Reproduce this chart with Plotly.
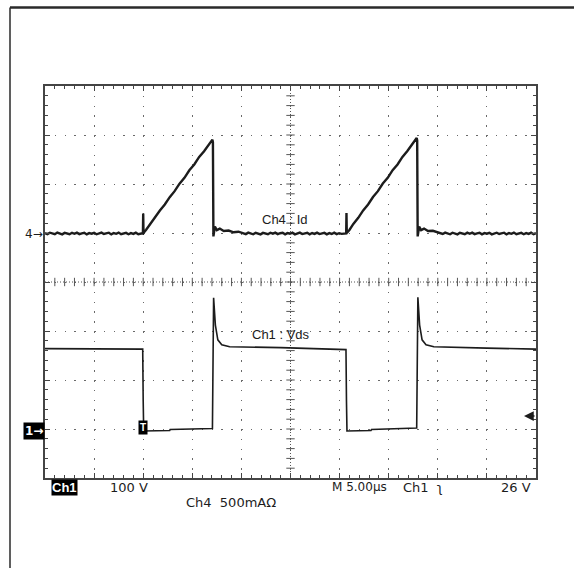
import plotly.graph_objects as go

# ---------------- data (time in µs, Ch1 in V, Ch4 in A) ----------------
# Ch1 : Vds
vds_time = [0, 3, 6, 9.95, 10.0, 10.05, 12.7, 12.75, 17.05, 17.1, 17.17, 17.35, 17.6, 18.0, 18.8, 24,
            30.65, 30.7, 30.75, 33.2, 33.25, 37.85, 37.9, 37.97, 38.15, 38.4, 38.8, 39.6, 45, 50]
vds_volts = [167, 167, 166, 166, 60, -1, 0, 2, 4, 100, 271, 215, 185, 175, 171, 169,
             165, 60, -1, 0, 2, 5, 110, 272, 215, 185, 175, 171, 168, 166]

# Ch4 : Id  (segments)
id_t_base1 = [0.0, 0.25, 0.5, 0.75, 1.0, 1.25, 1.5, 1.75, 2.0, 2.25, 2.5, 2.75, 3.0, 3.25, 3.5, 3.75, 4.0, 4.25,
              4.5, 4.75, 5.0, 5.25, 5.5, 5.75, 6.0, 6.25, 6.5, 6.75, 7.0, 7.25, 7.5, 7.75, 8.0, 8.25, 8.5, 8.75,
              9.0, 9.25, 9.5, 9.75, 9.9]
id_a_base1 = [0.004, -0.006, 0.008, -0.002, -0.007, 0.009, 0.001, -0.009, 0.006, 0.002, -0.008, 0.007,
              -0.003, 0.009, -0.006, 0.002, 0.008, -0.009, 0.004, -0.002, 0.007, -0.008, 0.003, 0.009,
              -0.005, -0.001, 0.008, -0.009, 0.005, -0.003, 0.009, -0.007, 0.002, 0.006, -0.008, 0.004,
              -0.004, 0.008, -0.007, 0.003, 0.002]
id_t_ramp1 = [9.97, 10.0, 10.03, 10.3, 10.7, 11.2, 11.7, 12.2, 12.7, 13.2, 13.7, 14.2, 14.7, 15.2, 15.7, 16.2, 16.7, 17.05]
id_a_ramp1 = [0.0, 0.205, 0.005, 0.038, 0.097, 0.160, 0.234, 0.296, 0.371, 0.432, 0.508, 0.568, 0.645, 0.704,
              0.781, 0.840, 0.917, 0.958]
id_t_drop1 = [17.1, 17.15, 17.3, 17.5, 17.8, 18.2, 18.7, 19.2, 19.7]
id_a_drop1 = [0.93, -0.03, 0.07, 0.035, 0.05, 0.025, 0.03, 0.012, 0.018]
id_t_base2 = [20.2, 20.45, 20.7, 20.95, 21.2, 21.45, 21.7, 21.95, 22.2, 22.45, 22.7, 22.95, 23.2, 23.45, 23.7,
              23.95, 24.2, 24.45, 24.7, 24.95, 25.2, 25.45, 25.7, 25.95, 26.2, 26.45, 26.7, 26.95, 27.2, 27.45,
              27.7, 27.95, 28.2, 28.45, 28.7, 28.95, 29.2, 29.45, 29.7, 29.95, 30.2, 30.6]
id_a_base2 = [0.004, -0.006, 0.009, -0.003, -0.008, 0.007, 0.002, -0.009, 0.006, 0.001, -0.007, 0.008,
              -0.002, 0.009, -0.006, 0.003, 0.007, -0.008, 0.004, -0.003, 0.008, -0.009, 0.002, 0.009,
              -0.006, -0.001, 0.007, -0.008, 0.005, -0.004, 0.009, -0.006, 0.003, 0.006, -0.009, 0.004,
              -0.005, 0.008, -0.006, 0.003, -0.004, 0.002]
id_t_ramp2 = [30.67, 30.7, 30.73, 31.0, 31.4, 31.9, 32.4, 32.9, 33.4, 33.9, 34.4, 34.9, 35.4, 35.9, 36.4, 36.9, 37.4, 37.85]
id_a_ramp2 = [0.0, 0.21, 0.005, 0.036, 0.098, 0.160, 0.236, 0.296, 0.372, 0.432, 0.510, 0.568, 0.646, 0.704,
              0.781, 0.842, 0.918, 0.975]
id_t_drop2 = [37.9, 37.95, 38.1, 38.3, 38.6, 39.0, 39.5, 40.0]
id_a_drop2 = [0.95, -0.03, 0.07, 0.035, 0.05, 0.025, 0.028, 0.012]
id_t_base3 = [40.25, 40.5, 40.75, 41.0, 41.25, 41.5, 41.75, 42.0, 42.25, 42.5, 42.75, 43.0, 43.25, 43.5, 43.75,
              44.0, 44.25, 44.5, 44.75, 45.0, 45.25, 45.5, 45.75, 46.0, 46.25, 46.5, 46.75, 47.0, 47.25, 47.5,
              47.75, 48.0, 48.25, 48.5, 48.75, 49.0, 49.25, 49.5, 49.75, 50.0]
id_a_base3 = [0.006, -0.005, 0.009, -0.002, -0.008, 0.008, 0.001, -0.009, 0.007, 0.002, -0.007, 0.008,
              -0.003, 0.009, -0.006, 0.002, 0.008, -0.008, 0.004, -0.002, 0.007, -0.009, 0.003, 0.008,
              -0.005, -0.001, 0.008, -0.009, 0.005, -0.003, 0.009, -0.007, 0.002, 0.006, -0.008, 0.004,
              -0.004, 0.008, -0.007, 0.003]

id_time = id_t_base1 + id_t_ramp1 + id_t_drop1 + id_t_base2 + id_t_ramp2 + id_t_drop2 + id_t_base3
id_amps = id_a_base1 + id_a_ramp1 + id_a_drop1 + id_a_base2 + id_a_ramp2 + id_a_drop2 + id_a_base3

# scope settings
time_per_div = 5.0      # µs
volts_per_div = 100.0   # Ch1
amps_per_div = 0.5      # Ch4
ch1_ground_div = -3.03
ch4_ground_div = 0.99

# ---------------- layout geometry ----------------
W, H = 574, 568
L, R, T, B = 45, 536, 86, 478
PW, PH = R - L, B - T


def px(x):
    return (x - L) / PW


def py(y):
    return (B - y) / PH


INK = "#1c1c1c"
FONT = "Liberation Sans"
FONT2 = "DejaVu Sans"

fig = go.Figure()

fig.add_trace(go.Scatter(x=vds_time, y=vds_volts, mode="lines", yaxis="y2",
                         line=dict(color=INK, width=1.6), hoverinfo="skip"))
fig.add_trace(go.Scatter(x=id_time, y=id_amps, mode="lines", yaxis="y3",
                         line=dict(color=INK, width=2.4), hoverinfo="skip"))

# centre-line tick marks
minor_x = [i * time_per_div / 5 for i in range(1, 50)]
minor_y = [i / 5 - 4 for i in range(1, 40)]
fig.add_trace(go.Scatter(x=minor_x, y=[0] * len(minor_x), mode="markers", hoverinfo="skip",
                         marker=dict(symbol="line-ns", size=6, line=dict(width=1, color="#555"))))
fig.add_trace(go.Scatter(x=[5 * time_per_div] * len(minor_y), y=minor_y, mode="markers", hoverinfo="skip",
                         marker=dict(symbol="line-ew", size=6, line=dict(width=1, color="#555"))))

dash = "1.6px,8.2px"
axis_common = dict(showgrid=True, gridcolor="#6a6a6a", gridwidth=1, griddash=dash,
                   showline=True, linecolor="#444", linewidth=1.5, mirror="ticks",
                   ticks="inside", ticklen=5, tickcolor="#444", tickwidth=1,
                   showticklabels=False, zeroline=False, fixedrange=True)

fig.update_layout(
    width=W, height=H, autosize=False,
    margin=dict(l=L, r=W - R, t=T, b=H - B),
    paper_bgcolor="white", plot_bgcolor="white", showlegend=False,
    xaxis=dict(range=[0, 10 * time_per_div], tick0=0, dtick=time_per_div,
               minor=dict(dtick=time_per_div / 5, ticks="inside", ticklen=3, tickcolor="#444", showgrid=False),
               **axis_common),
    yaxis=dict(range=[-4, 4], tick0=-4, dtick=1,
               minor=dict(dtick=0.2, ticks="inside", ticklen=3, tickcolor="#444", showgrid=False),
               **axis_common),
    yaxis2=dict(overlaying="y", visible=False, fixedrange=True,
                range=[(-4 - ch1_ground_div) * volts_per_div, (4 - ch1_ground_div) * volts_per_div]),
    yaxis3=dict(overlaying="y", visible=False, fixedrange=True,
                range=[(-4 - ch4_ground_div) * amps_per_div, (4 - ch4_ground_div) * amps_per_div]),
)

# centre lines + outer frame
fig.add_shape(type="line", xref="x", yref="y", x0=5 * time_per_div, x1=5 * time_per_div, y0=-4, y1=4,
              line=dict(color="#555", width=1, dash="1px,2px"))
fig.add_shape(type="line", xref="x", yref="y", x0=0, x1=10 * time_per_div, y0=0, y1=0,
              line=dict(color="#555", width=1, dash="1px,2px"))
fig.add_shape(type="line", xref="paper", yref="paper", x0=px(10), x1=px(W + 2), y0=py(7.5), y1=py(7.5),
              line=dict(color="#2a2a2a", width=2.5))
fig.add_shape(type="line", xref="paper", yref="paper", x0=px(10), x1=px(10), y0=py(7.5), y1=py(H + 2),
              line=dict(color="#2a2a2a", width=1.5))


def label(text, x, y, size=13, xanchor="center", color=INK, bg=None, bold=False, pad=0, family=FONT):
    fig.add_annotation(text=f"<b>{text}</b>" if bold else text, xref="paper", yref="paper",
                       x=px(x), y=py(y), xanchor=xanchor, yanchor="middle", showarrow=False,
                       font=dict(family=family, size=size, color=color),
                       bgcolor=bg, borderpad=pad)


label("Ch4 : Id", 284.5, 219)
label("Ch1 : Vds", 281, 334)
label("4→", 44, 234, size=12, xanchor="right", family=FONT2)
label("1→", 34, 431, size=12, color="white", bg="black", bold=True, pad=1, family=FONT2)
label("T", 142.5, 427, size=10, color="white", bg="black", bold=True, pad=1)
label("Ch1", 64, 487, size=13, color="white", bg="black", bold=True, pad=0)
label("100 V", 129, 487, size=13, family=FONT2)
label("Ch4  500mAΩ", 185, 502, size=13, xanchor="left", family=FONT2)
label("M 5.00µs", 388, 487, size=12, xanchor="right", family=FONT2)
label("Ch1  ʅ", 402, 487, size=13, xanchor="left", family=FONT2)
label("26 V", 532, 487, size=13, xanchor="right", family=FONT2)

# trigger level arrow on the right edge
fig.add_annotation(xref="paper", yref="paper", x=px(524), y=py(416), ax=12, ay=0, text="",
                   showarrow=True, arrowhead=2, arrowsize=1.3, arrowwidth=1.5, arrowcolor=INK)

fig.write_html("out.html")
